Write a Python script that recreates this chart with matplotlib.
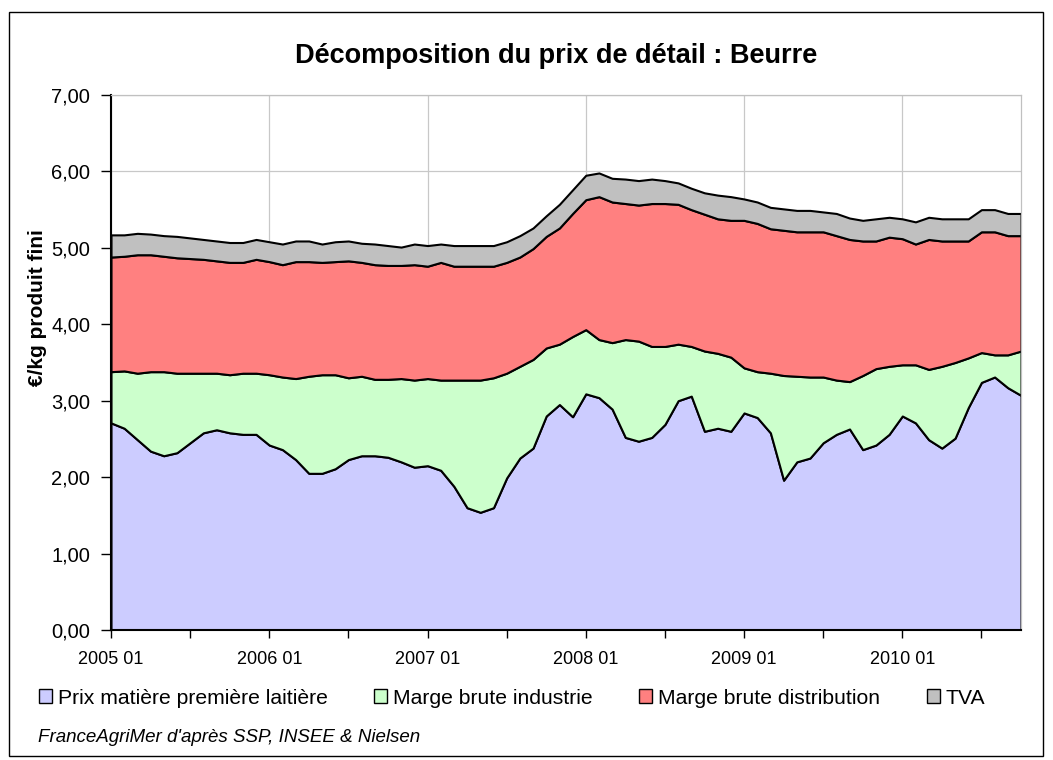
import numpy as np
import matplotlib
matplotlib.use("Agg")
from matplotlib import pyplot as plt
from matplotlib.patches import Patch, Rectangle
from matplotlib.ticker import FuncFormatter, MultipleLocator

plt.rcParams['font.family'] = ['Liberation Sans', 'DejaVu Sans']

# monthly values, 2005 01 .. 2010 10 (euro / kg)
prix_matiere = [2.71, 2.64, 2.49, 2.34, 2.28, 2.32, 2.45, 2.58, 2.62, 2.58,
                2.56, 2.56, 2.42, 2.36, 2.23, 2.05, 2.05, 2.11, 2.23, 2.28,
                2.28, 2.26, 2.20, 2.13, 2.15, 2.09, 1.88, 1.60, 1.54, 1.60,
                1.99, 2.25, 2.38, 2.80, 2.95, 2.79, 3.09, 3.04, 2.89, 2.52,
                2.47, 2.52, 2.69, 3.00, 3.06, 2.60, 2.64, 2.60, 2.84, 2.78,
                2.58, 1.96, 2.20, 2.25, 2.45, 2.56, 2.63, 2.36, 2.42, 2.56,
                2.80, 2.71, 2.49, 2.38, 2.51, 2.91, 3.24, 3.31, 3.17, 3.07]
marge_industrie = [0.67, 0.75, 0.87, 1.04, 1.10, 1.04, 0.91, 0.78, 0.74, 0.76,
                   0.80, 0.80, 0.92, 0.95, 1.06, 1.27, 1.29, 1.23, 1.07, 1.04,
                   1.00, 1.02, 1.09, 1.14, 1.14, 1.18, 1.39, 1.67, 1.73, 1.70,
                   1.37, 1.20, 1.16, 0.89, 0.79, 1.05, 0.84, 0.76, 0.87, 1.28,
                   1.31, 1.19, 1.02, 0.74, 0.65, 1.05, 0.98, 0.97, 0.59, 0.60,
                   0.78, 1.37, 1.12, 1.06, 0.86, 0.71, 0.62, 0.97, 1.00, 0.89,
                   0.67, 0.76, 0.92, 1.07, 0.99, 0.65, 0.39, 0.29, 0.43, 0.58]
marge_distribution = [1.50, 1.50, 1.55, 1.53, 1.51, 1.51, 1.50, 1.49, 1.47, 1.47,
                      1.45, 1.49, 1.48, 1.47, 1.53, 1.50, 1.47, 1.48, 1.53, 1.49,
                      1.50, 1.49, 1.48, 1.51, 1.47, 1.54, 1.49, 1.49, 1.49, 1.46,
                      1.45, 1.43, 1.45, 1.46, 1.52, 1.61, 1.70, 1.87, 1.84, 1.78,
                      1.78, 1.87, 1.87, 1.83, 1.79, 1.79, 1.76, 1.79, 1.93, 1.94,
                      1.89, 1.90, 1.89, 1.90, 1.90, 1.89, 1.86, 1.76, 1.67, 1.69,
                      1.65, 1.58, 1.70, 1.64, 1.59, 1.53, 1.58, 1.61, 1.56, 1.51]
tva = [0.29, 0.28, 0.28, 0.27, 0.27, 0.28, 0.27, 0.26, 0.26, 0.26,
       0.26, 0.26, 0.26, 0.27, 0.27, 0.27, 0.24, 0.26, 0.26, 0.25,
       0.27, 0.26, 0.24, 0.27, 0.27, 0.24, 0.27, 0.27, 0.27, 0.27,
       0.27, 0.28, 0.27, 0.27, 0.31, 0.31, 0.32, 0.31, 0.31, 0.32,
       0.32, 0.32, 0.30, 0.28, 0.28, 0.28, 0.31, 0.31, 0.28, 0.28,
       0.28, 0.28, 0.28, 0.28, 0.26, 0.29, 0.28, 0.27, 0.29, 0.26,
       0.26, 0.29, 0.29, 0.29, 0.29, 0.29, 0.29, 0.29, 0.29, 0.29]

year_labels = ['2005 01', '2006 01', '2007 01', '2008 01', '2009 01', '2010 01']
series_names = ['Prix matière première laitière', 'Marge brute industrie',
                'Marge brute distribution', 'TVA']
colors = ['#CCCCFF', '#CCFFCC', '#FF8080', '#C0C0C0']

W, H = 1053, 760
fig = plt.figure(figsize=(W / 100, H / 100), dpi=100)
ax = fig.add_axes([111 / W, 1 - 630 / H, (1021 - 111) / W, (630 - 95) / H])

x = np.arange(len(prix_matiere))
ax.stackplot(x, prix_matiere, marge_industrie, marge_distribution, tva,
             colors=colors, edgecolor='black', linewidth=1.5, zorder=2)

ax.set_xlim(0, len(x) - 1)
ax.set_ylim(0, 7)
ax.yaxis.set_major_locator(MultipleLocator(1))
ax.yaxis.set_major_formatter(FuncFormatter(lambda v, p: f"{v:.2f}".replace('.', ',')))
ax.set_xticks(x[::12])
ax.set_xticklabels(year_labels)
ax.set_xticks(x[6::12], minor=True)

ax.grid(True, which='major', color='#c8c8c8', linewidth=0.9, zorder=0)
ax.set_axisbelow(True)
ax.tick_params(axis='both', which='both', direction='out', length=6,
               width=1, color='black')
ax.tick_params(axis='x', pad=9, labelsize=13)
ax.tick_params(axis='y', pad=8, labelsize=14.5, length=7)
for s in ['top', 'right']:
    ax.spines[s].set_color('#c0c0c0')
    ax.spines[s].set_linewidth(0.9)
for s in ['left', 'bottom']:
    ax.spines[s].set_linewidth(1.5)

fig.text(556 / W, 1 - 56 / H, 'Décomposition du prix de détail : Beurre',
         ha='center', va='center', fontsize=19.5, fontweight='bold')
fig.text(38 / W, 1 - 308 / H, '€/kg produit fini', rotation=90,
         ha='center', va='center', fontsize=15, fontweight='bold')

handles = [Patch(facecolor=c, edgecolor='black', linewidth=1) for c in colors]
fig.legend(handles, series_names, loc='center left',
           bbox_to_anchor=(39 / W, 1 - 698 / H), ncol=4, frameon=False,
           fontsize=15.2, handlelength=0.6, handleheight=0.6,
           handletextpad=0.3, columnspacing=2.2, borderpad=0, borderaxespad=0)

fig.text(38 / W, 1 - 738 / H, "FranceAgriMer d'après SSP, INSEE & Nielsen",
         ha='left', va='center', fontsize=13.5, style='italic')

fig.patches.append(Rectangle((9 / W, 1 - 756 / H), (1043 - 9) / W, (756 - 12) / H,
                             transform=fig.transFigure, fill=False,
                             edgecolor='black', linewidth=1))

fig.savefig('out.png', dpi=100)
